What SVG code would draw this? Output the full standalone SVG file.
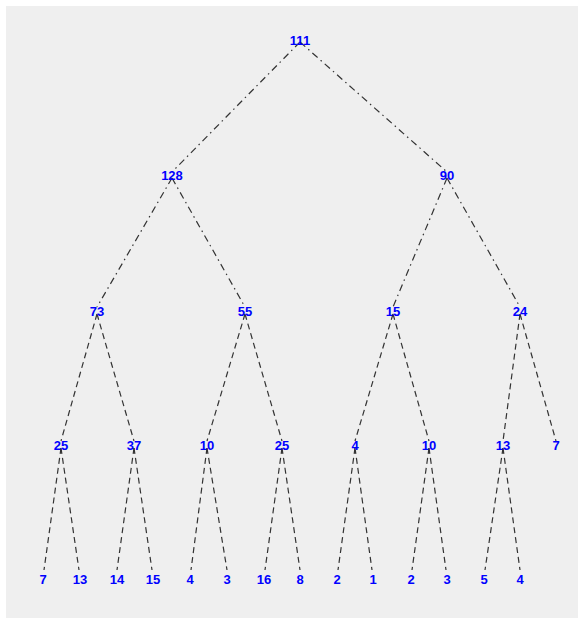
<svg xmlns="http://www.w3.org/2000/svg" width="578" height="618" viewBox="0 0 578 618">
<style>
.e{stroke:#333;stroke-width:1.2;fill:none}
.dd{stroke-dasharray:7 4 1.5 4}
.d{stroke-dasharray:6 4}
text{font-family:"Liberation Sans",Arial,sans-serif;font-size:13px;font-weight:bold;fill:#0000ff;text-anchor:middle}
</style>
<rect x="0" y="0" width="578" height="618" fill="#ffffff"/>
<rect x="6" y="6" width="572" height="612" fill="#efefef"/>
<g id="connectors">
<line class="e dd" x1="300" y1="42" x2="172" y2="172"/>
<line class="e dd" x1="300" y1="42" x2="447" y2="172"/>
<line class="e dd" x1="172" y1="178" x2="97" y2="307"/>
<line class="e dd" x1="172" y1="178" x2="245" y2="307"/>
<line class="e dd" x1="447" y1="178" x2="393" y2="307"/>
<line class="e dd" x1="447" y1="178" x2="520" y2="307"/>
<line class="e d" x1="97" y1="314" x2="61" y2="441"/>
<line class="e d" x1="97" y1="314" x2="134" y2="441"/>
<line class="e d" x1="245" y1="314" x2="207" y2="441"/>
<line class="e d" x1="245" y1="314" x2="282" y2="441"/>
<line class="e d" x1="393" y1="314" x2="355" y2="441"/>
<line class="e d" x1="393" y1="314" x2="429" y2="441"/>
<line class="e d" x1="520" y1="314" x2="503" y2="441"/>
<line class="e d" x1="520" y1="314" x2="556" y2="441"/>
<line class="e d" x1="61" y1="448" x2="44" y2="570"/>
<line class="e d" x1="61" y1="448" x2="79" y2="570"/>
<line class="e d" x1="134" y1="448" x2="117" y2="570"/>
<line class="e d" x1="134" y1="448" x2="152" y2="570"/>
<line class="e d" x1="207" y1="448" x2="191" y2="570"/>
<line class="e d" x1="207" y1="448" x2="227" y2="570"/>
<line class="e d" x1="282" y1="448" x2="265" y2="570"/>
<line class="e d" x1="282" y1="448" x2="300" y2="570"/>
<line class="e d" x1="355" y1="448" x2="338" y2="570"/>
<line class="e d" x1="355" y1="448" x2="372" y2="570"/>
<line class="e d" x1="429" y1="448" x2="412" y2="570"/>
<line class="e d" x1="429" y1="448" x2="446" y2="570"/>
<line class="e d" x1="503" y1="448" x2="485" y2="570"/>
<line class="e d" x1="503" y1="448" x2="520" y2="570"/>
</g>
<g id="n0"><text x="300" y="45">111</text></g>
<g id="n1"><text x="172" y="180">128</text></g>
<g id="n2"><text x="447" y="180">90</text></g>
<g id="n3"><text x="97" y="316">73</text></g>
<g id="n4"><text x="245" y="316">55</text></g>
<g id="n5"><text x="393" y="316">15</text></g>
<g id="n6"><text x="520" y="316">24</text></g>
<g id="n7"><text x="61" y="450">25</text></g>
<g id="n8"><text x="134" y="450">37</text></g>
<g id="n9"><text x="207" y="450">10</text></g>
<g id="n10"><text x="282" y="450">25</text></g>
<g id="n11"><text x="355" y="450">4</text></g>
<g id="n12"><text x="429" y="450">10</text></g>
<g id="n13"><text x="503" y="450">13</text></g>
<g id="n14"><text x="556" y="450">7</text></g>
<g id="n15"><text x="43" y="584">7</text></g>
<g id="n16"><text x="80" y="584">13</text></g>
<g id="n17"><text x="117" y="584">14</text></g>
<g id="n18"><text x="153" y="584">15</text></g>
<g id="n19"><text x="190" y="584">4</text></g>
<g id="n20"><text x="227" y="584">3</text></g>
<g id="n21"><text x="264" y="584">16</text></g>
<g id="n22"><text x="300" y="584">8</text></g>
<g id="n23"><text x="337" y="584">2</text></g>
<g id="n24"><text x="373" y="584">1</text></g>
<g id="n25"><text x="411" y="584">2</text></g>
<g id="n26"><text x="447" y="584">3</text></g>
<g id="n27"><text x="484" y="584">5</text></g>
<g id="n28"><text x="520" y="584">4</text></g>
</svg>
